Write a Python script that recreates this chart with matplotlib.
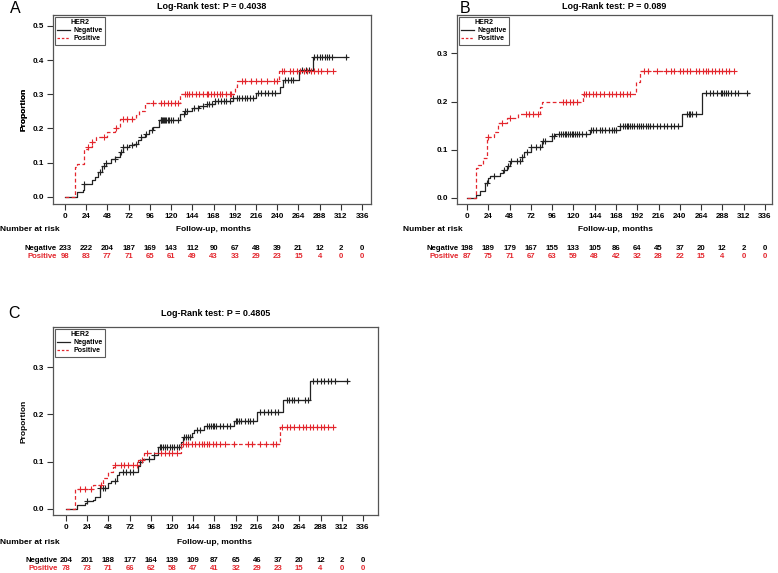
import numpy as np
import matplotlib.pyplot as plt
import matplotlib.transforms as mtransforms
from matplotlib.lines import Line2D

plt.rcParams['font.family'] = ['Liberation Sans', 'DejaVu Sans']

W, H = 778, 573
RED = '#e3262d'
BLACK = '#222222'

months = [0, 24, 48, 72, 96, 120, 144, 168, 192, 216, 240, 264, 288, 312, 336]

# ---- panel A ----
a_pval = '0.4038'
a_neg_t = [0, 13, 20, 22, 30, 34, 37, 42, 46, 52, 57, 62, 66, 72, 78, 82, 86, 90, 95, 100,
           106, 130, 136, 144, 152, 160, 170, 190, 216, 243, 246, 265, 280, 319]
a_neg_p = [0, 0.015, 0.02, 0.038, 0.05, 0.058, 0.072, 0.09, 0.1, 0.11, 0.116, 0.13, 0.145, 0.15,
           0.155, 0.165, 0.174, 0.183, 0.195, 0.205, 0.224, 0.241, 0.251, 0.26, 0.265, 0.27,
           0.28, 0.29, 0.305, 0.32, 0.343, 0.372, 0.41, 0.41]
a_neg_c = [22, 40, 44, 46, 56, 63, 66, 70, 76, 80, 86, 92, 98, 108, 109, 110, 111, 112, 113,
           114, 116, 118, 120, 122, 128, 134, 136, 138, 146, 150, 156, 160, 163, 166, 170,
           173, 176, 180, 182, 186, 190, 194, 197, 200, 203, 206, 209, 212, 218, 222, 226,
           230, 234, 238, 249, 252, 255, 258, 268, 272, 276, 282, 285, 288, 291, 294, 296,
           299, 302, 318]
a_pos_t = [0, 11, 13, 22, 26, 30, 35, 48, 56, 62, 80, 84, 90, 130, 192, 195, 242, 303]
a_pos_p = [0, 0.087, 0.095, 0.14, 0.145, 0.16, 0.174, 0.19, 0.2, 0.227, 0.24, 0.25, 0.274,
           0.3, 0.32, 0.338, 0.367, 0.367]
a_pos_c = [26, 30, 44, 58, 66, 70, 76, 100, 108, 112, 116, 120, 124, 128, 136, 138, 140, 144,
           148, 152, 156, 160, 162, 165, 168, 172, 175, 178, 182, 186, 188, 200, 204, 210,
           216, 222, 228, 236, 240, 245, 248, 254, 258, 262, 266, 270, 274, 278, 282, 286,
           290, 296, 303]
a_neg_risk = [233, 222, 204, 187, 169, 143, 112, 90, 67, 48, 39, 21, 12, 2, 0]
a_pos_risk = [98, 83, 77, 71, 65, 61, 49, 43, 33, 29, 23, 15, 4, 0, 0]

# ---- panel B ----
b_pval = '0.089'
b_neg_t = [0, 10, 15, 20, 24, 26, 37, 41, 45, 48, 62, 64, 72, 85, 96, 99, 139, 172, 243, 265, 318]
b_neg_p = [0, 0.005, 0.013, 0.031, 0.04, 0.045, 0.052, 0.058, 0.065, 0.077, 0.085, 0.096,
           0.106, 0.117, 0.128, 0.133, 0.14, 0.149, 0.174, 0.217, 0.217]
b_neg_c = [22, 30, 42, 46, 50, 56, 60, 62, 68, 72, 78, 82, 86, 88, 96, 98, 104, 106, 108, 110,
           112, 114, 116, 118, 120, 122, 124, 126, 130, 134, 140, 142, 146, 150, 152, 156,
           160, 164, 166, 168, 172, 176, 178, 180, 182, 184, 186, 188, 192, 194, 196, 198,
           202, 204, 206, 210, 214, 218, 222, 226, 230, 234, 238, 248, 250, 252, 254, 258,
           270, 274, 278, 282, 286, 288, 290, 292, 294, 298, 302, 306, 316]
b_pos_t = [0, 10, 12, 18, 23, 30, 35, 45, 58, 82, 85, 131, 191, 195, 301]
b_pos_p = [0, 0.062, 0.068, 0.083, 0.127, 0.137, 0.155, 0.165, 0.175, 0.189, 0.2, 0.215,
           0.24, 0.263, 0.263]
b_pos_c = [24, 40, 48, 66, 70, 74, 80, 108, 112, 116, 120, 124, 132, 134, 138, 142, 146, 150,
           154, 160, 164, 168, 172, 176, 180, 184, 200, 204, 214, 224, 230, 234, 240, 244,
           248, 252, 258, 262, 266, 270, 272, 276, 280, 284, 288, 292, 296, 301]
b_neg_risk = [198, 189, 179, 167, 155, 133, 105, 86, 64, 45, 37, 20, 12, 2, 0]
b_pos_risk = [87, 75, 71, 67, 63, 59, 48, 42, 32, 28, 22, 15, 4, 0, 0]

# ---- panel C ----
c_pval = '0.4805'
c_neg_t = [0, 12, 22, 24, 31, 33, 38, 47, 51, 58, 60, 82, 84, 86, 100, 104, 130, 132, 143,
           145, 156, 190, 216, 245, 276, 319]
c_neg_p = [0, 0.008, 0.013, 0.017, 0.019, 0.026, 0.045, 0.055, 0.058, 0.072, 0.079, 0.09,
           0.1, 0.105, 0.114, 0.13, 0.142, 0.152, 0.16, 0.167, 0.176, 0.186, 0.204, 0.23,
           0.271, 0.271]
c_neg_c = [24, 38, 42, 44, 56, 64, 68, 72, 76, 84, 94, 100, 106, 108, 110, 112, 114, 118, 120,
           122, 126, 128, 134, 136, 138, 140, 148, 152, 160, 162, 164, 166, 168, 170, 174,
           178, 182, 186, 192, 194, 196, 198, 202, 206, 208, 212, 220, 224, 228, 232, 236,
           240, 250, 252, 256, 258, 262, 270, 274, 280, 284, 288, 292, 296, 300, 304, 318]
c_pos_t = [0, 10, 31, 42, 48, 53, 56, 82, 88, 130, 242, 304]
c_pos_p = [0, 0.042, 0.051, 0.065, 0.079, 0.089, 0.093, 0.104, 0.119, 0.137, 0.174, 0.174]
c_pos_c = [16, 22, 28, 40, 56, 62, 66, 70, 76, 80, 86, 92, 108, 112, 116, 120, 126, 132, 136,
           138, 142, 146, 150, 154, 156, 160, 162, 166, 170, 174, 180, 190, 206, 210, 220,
           226, 234, 238, 244, 250, 254, 258, 264, 268, 272, 276, 280, 284, 288, 292, 296,
           302]
c_neg_risk = [204, 201, 188, 177, 164, 139, 109, 87, 65, 46, 37, 20, 12, 2, 0]
c_pos_risk = [78, 73, 71, 66, 62, 58, 47, 41, 32, 29, 23, 15, 4, 0, 0]


def fy(py):
    return 1 - py / H


def curve(ax, t, p, c, color, ls):
    t = np.array(t, dtype=float)
    p = np.array(p, dtype=float)
    if ls == '--':
        ax.step(t, p, where='post', color=color, lw=0.9, ls='--', dashes=(3, 2))
    else:
        ax.step(t, p, where='post', color=color, lw=0.9)
    c = np.array(c, dtype=float)
    cy = p[np.searchsorted(t, c, side='right') - 1]
    ax.plot(c, cy, ls='none', marker='+', ms=4.5, mew=0.8, color=color)


def panel(fig, box, xlim, ylim, yticks, letter, letter_xy, pval, title_y,
          neg, pos, neg_risk, pos_risk, rows_y, nar_x):
    left, top, right, bottom = box
    ax = fig.add_axes([left / W, fy(bottom), (right - left) / W, (bottom - top) / H])
    curve(ax, *neg, BLACK, '-')
    curve(ax, *pos, RED, '--')
    ax.set_xlim(*xlim)
    ax.set_ylim(*ylim)
    ax.set_xticks(months)
    ax.set_yticks(yticks)
    ax.set_yticklabels(['%.1f' % v for v in yticks])
    ax.tick_params(length=4, width=0.8, labelsize=5.8, pad=2.5, color='#333333')
    for lab in ax.get_xticklabels() + ax.get_yticklabels():
        lab.set_fontweight('bold')
    for s in ax.spines.values():
        s.set_linewidth(0.9)
        s.set_color('#555555')
    ax.set_ylabel('Proportion', fontsize=6, fontweight='bold')
    ax.yaxis.set_label_coords((28 - left) / (right - left), 0.5)

    handles = [Line2D([], [], color=BLACK, lw=0.9),
               Line2D([], [], color=RED, lw=0.9, ls='--', dashes=(2, 1.5))]
    leg = ax.legend(handles, ['Negative', 'Positive'], title='HER2', loc='upper left',
                    fontsize=5, title_fontsize=5, frameon=True, fancybox=False,
                    edgecolor='#333333', borderaxespad=0.25, handlelength=1.8,
                    handletextpad=0.5, borderpad=0.35, labelspacing=0.15)
    leg.get_frame().set_linewidth(0.8)
    for txt in leg.get_texts():
        txt.set_fontweight('bold')
    leg.get_title().set_fontweight('bold')

    cx = (left + right) / 2
    fig.text(cx / W, fy(title_y), 'Log-Rank test: P = ' + pval, ha='center', va='baseline',
             fontsize=6.5, fontweight='bold')
    fig.text(letter_xy[0] / W, fy(letter_xy[1]), letter, ha='center', va='baseline',
             fontsize=11.5)

    tr = mtransforms.blended_transform_factory(ax.transData, fig.transFigure)
    nar_y, neg_y, pos_y = rows_y
    fig.text(nar_x / W, fy(nar_y), 'Number at risk', ha='left', va='center', fontsize=6,
             fontweight='bold')
    ax.text(168, fy(nar_y), 'Follow-up, months', transform=tr, ha='center', va='center',
            fontsize=6, fontweight='bold')
    ax.text(-9.5, fy(neg_y), 'Negative', transform=tr, ha='right', va='center', fontsize=5.6,
            fontweight='bold', color='black')
    ax.text(-9.5, fy(pos_y), 'Positive', transform=tr, ha='right', va='center', fontsize=5.6,
            fontweight='bold', color=RED)
    for m, n1, n2 in zip(months, neg_risk, pos_risk):
        ax.text(m, fy(neg_y), str(n1), transform=tr, ha='center', va='center', fontsize=5.6,
                fontweight='bold', color='black')
        ax.text(m, fy(pos_y), str(n2), transform=tr, ha='center', va='center', fontsize=5.6,
                fontweight='bold', color=RED)
    return ax


fig = plt.figure(figsize=(W / 100, H / 100), dpi=100)

panel(fig, (53, 15, 371, 203.5), (-13.6, 346), (-0.02, 0.532), [0, 0.1, 0.2, 0.3, 0.4, 0.5],
      'A', (15, 13), a_pval, 9,
      (a_neg_t, a_neg_p, a_neg_c), (a_pos_t, a_pos_p, a_pos_c),
      a_neg_risk, a_pos_risk, (230, 248, 257), 0)

panel(fig, (457, 15, 772, 203.5), (-11.3, 344), (-0.012, 0.38), [0, 0.1, 0.2, 0.3],
      'B', (465, 13), b_pval, 9,
      (b_neg_t, b_neg_p, b_neg_c), (b_pos_t, b_pos_p, b_pos_c),
      b_neg_risk, b_pos_risk, (230, 248, 257), 403)

panel(fig, (53, 327, 378, 515), (-14.7, 353), (-0.013, 0.385), [0, 0.1, 0.2, 0.3],
      'C', (14, 318), c_pval, 316,
      (c_neg_t, c_neg_p, c_neg_c), (c_pos_t, c_pos_p, c_pos_c),
      c_neg_risk, c_pos_risk, (542, 560, 569), 0)

fig.savefig('out.png', dpi=100)
